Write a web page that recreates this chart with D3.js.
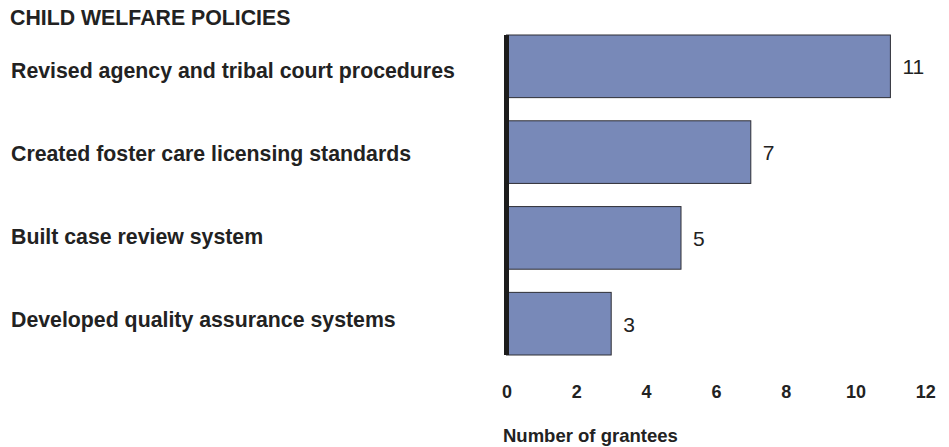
<!DOCTYPE html>
<html>
<head>
<meta charset="utf-8">
<script src="https://cdn.jsdelivr.net/npm/d3@7"></script>
<style>
  body { margin: 0; background: #fff; }
  svg text { font-family: "Liberation Sans", Arial, sans-serif; fill: #222; }
</style>
</head>
<body>
<div id="chart"></div>
<script>
// chart data
var title = "CHILD WELFARE POLICIES";
var categories = [
  "Revised agency and tribal court procedures",
  "Created foster care licensing standards",
  "Built case review system",
  "Developed quality assurance systems"
];
var grantees = [11, 7, 5, 3];
var tickValues = [0, 2, 4, 6, 8, 10, 12];
var xTitle = "Number of grantees";

var width = 949, height = 447;

var svg = d3.select("#chart").append("svg")
    .attr("width", width)
    .attr("height", height);

var xScale = d3.scaleLinear()
    .domain([0, 12])
    .range([506.5, 925.3]);

var yScale = d3.scaleBand()
    .domain(d3.range(categories.length))
    .range([35, 355])
    .paddingInner(0.27)
    .paddingOuter(0);

// category labels sit a bit off the bar centres in the original
var labelScale = d3.scalePoint()
    .domain(d3.range(categories.length))
    .range([77.5, 327]);

svg.append("text")
    .text(title)
    .attr("x", 10)
    .attr("y", 25)
    .attr("font-size", "21.3px")
    .attr("font-weight", "bold");

svg.selectAll(".cat")
    .data(categories)
    .enter()
    .append("text")
    .attr("class", "cat")
    .attr("x", 11)
    .attr("y", function(d, i) { return labelScale(i); })
    .attr("font-size", "21.3px")
    .attr("font-weight", "bold")
    .text(function(d) { return d; });

svg.selectAll("rect")
    .data(grantees)
    .enter()
    .append("rect")
    .attr("x", xScale(0))
    .attr("y", function(d, i) { return yScale(i); })
    .attr("width", function(d) { return xScale(d) - xScale(0); })
    .attr("height", yScale.bandwidth())
    .attr("fill", "#7889b8")
    .attr("stroke", "#2e2e35")
    .attr("stroke-width", 1);

svg.selectAll(".val")
    .data(grantees)
    .enter()
    .append("text")
    .attr("class", "val")
    .attr("x", function(d) { return xScale(d) + 12; })
    .attr("y", function(d, i) { return yScale(i) + yScale.bandwidth() / 2 + 8; })
    .attr("font-size", "21px")
    .text(function(d) { return d; });

// thick baseline
svg.append("line")
    .attr("x1", xScale(0))
    .attr("x2", xScale(0))
    .attr("y1", 35)
    .attr("y2", 355)
    .attr("stroke", "#1c1c1c")
    .attr("stroke-width", 5);

var xAxis = d3.axisBottom(xScale)
    .tickValues(tickValues)
    .tickSize(0)
    .tickPadding(0);

var gx = svg.append("g")
    .attr("transform", "translate(0,384)")
    .call(xAxis);
gx.select(".domain").remove();
gx.selectAll("text")
    .attr("dy", "0.78em")
    .style("font-family", "'Liberation Sans', Arial, sans-serif")
    .style("font-size", "18px")
    .style("font-weight", "bold")
    .style("fill", "#222");

svg.append("text")
    .text(xTitle)
    .attr("x", 503)
    .attr("y", 441.5)
    .attr("font-size", "18.5px")
    .attr("font-weight", "bold");
</script>
</body>
</html>
